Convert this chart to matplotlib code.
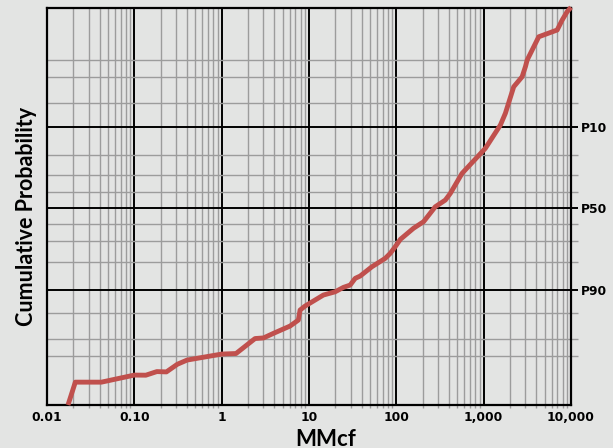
from statistics import NormalDist

import matplotlib

matplotlib.use("Agg")
import matplotlib.pyplot as plt
import numpy as np
from matplotlib.ticker import FixedLocator, FixedFormatter, LogLocator, NullFormatter


# volume (MMcf) vs cumulative probability
VOLUME = [0.0174, 0.0211, 0.042, 0.10, 0.1355, 0.181, 0.233, 0.311, 0.402,
          1.0, 1.46, 2.41, 3.02, 3.91, 6.07, 7.55, 7.9, 9.02, 14.6, 19.9,
          24.8, 29.6, 33.8, 38.5, 52.5, 74.6, 85.1, 97.1, 111, 157, 205,
          279, 364, 415, 565, 1045, 1554, 1774, 2208, 2756, 3008, 3147,
          4275, 6950, 7925, 9036, 10000]
CUM_PROB = [0.00098, 0.0031, 0.0031, 0.00432, 0.0043, 0.00507, 0.0050,
            0.00703, 0.00843, 0.01085, 0.0111, 0.0201, 0.0206, 0.0244,
            0.0318, 0.0391, 0.0544, 0.0617, 0.0857, 0.094, 0.1062, 0.113,
            0.1345, 0.1425, 0.178, 0.2145, 0.238, 0.2715, 0.311, 0.375,
            0.415, 0.508, 0.550, 0.591, 0.707, 0.826, 0.904, 0.932, 0.9717,
            0.9805, 0.9869, 0.990, 0.99646, 0.99744, 0.99844, 0.99899, 0.9992]

X_TICKS = [0.01, 0.1, 1, 10, 100, 1000, 10000]
X_TICK_LABELS = ["0.01", "0.10", "1", "10", "100", "1,000", "10,000"]
P_TICKS = [0.1, 0.5, 0.9]
P_TICK_LABELS = ["P90", "P50", "P10"]
P_MINOR = [0.01, 0.02, 0.05, 0.2, 0.3, 0.4, 0.6, 0.7, 0.8, 0.95, 0.98, 0.99]

BG = "#e3e4e3"
RED = "#c0504d"
GRID_GRAY = "#9c9c9c"

_nd = NormalDist()
_ppf = np.vectorize(_nd.inv_cdf, otypes=[float])
_cdf = np.vectorize(_nd.cdf, otypes=[float])


def prob_forward(p):
    p = np.clip(np.asarray(p, dtype=float), 1e-9, 1 - 1e-9)
    return _ppf(p)


def prob_inverse(z):
    return _cdf(np.asarray(z, dtype=float))


def main():
    fig = plt.figure(figsize=(6.13, 4.48), dpi=100, facecolor=BG)
    ax = fig.add_axes([47 / 613, 1 - 405 / 448, 524 / 613, 397 / 448])
    ax.set_facecolor(BG)

    ax.set_xscale("log")
    ax.set_yscale("function", functions=(prob_forward, prob_inverse))
    ax.set_xlim(0.01, 10000)
    ax.set_ylim(0.00098, 0.99917)

    ax.plot(VOLUME, CUM_PROB, color=RED, lw=3.5, solid_joinstyle="round",
            solid_capstyle="butt", zorder=5, clip_on=False)

    # x axis
    ax.xaxis.set_major_locator(FixedLocator(X_TICKS))
    ax.xaxis.set_major_formatter(FixedFormatter(X_TICK_LABELS))
    ax.xaxis.set_minor_locator(LogLocator(base=10, subs=np.arange(2, 10), numticks=20))
    ax.xaxis.set_minor_formatter(NullFormatter())
    ax.tick_params(axis="x", which="major", length=0, pad=4)
    ax.tick_params(axis="x", which="minor", length=2, color=GRID_GRAY, width=1)

    # probability axis, labels on the right
    ax.yaxis.set_major_locator(FixedLocator(P_TICKS))
    ax.yaxis.set_major_formatter(FixedFormatter(P_TICK_LABELS))
    ax.yaxis.set_minor_locator(FixedLocator(P_MINOR))
    ax.yaxis.set_minor_formatter(NullFormatter())
    ax.yaxis.tick_right()
    ax.tick_params(axis="y", which="major", length=5, width=1.4, color="black", pad=2)
    ax.tick_params(axis="y", which="minor", length=5, width=1, color=GRID_GRAY)

    for lbl in ax.get_xticklabels() + ax.get_yticklabels():
        lbl.set_fontfamily("DejaVu Sans")
        lbl.set_fontweight("bold")
        lbl.set_fontsize(8.8)

    ax.grid(which="major", color="black", lw=1.4)
    ax.grid(which="minor", color=GRID_GRAY, lw=1)
    ax.set_axisbelow(True)
    for spine in ax.spines.values():
        spine.set_linewidth(1.6)
        spine.set_color("black")

    fig.text(27 / 613, 1 - 216 / 448, "Cumulative Probability", rotation=90,
             ha="center", va="center", fontsize=15.5, fontweight="bold",
             family="Lato")
    fig.text(326 / 613, 1 - 439 / 448, "MMcf", ha="center", va="center",
             fontsize=16, fontweight="bold", family="Lato")

    fig.savefig("out.png", dpi=100, facecolor=BG)
    plt.close(fig)


if __name__ == "__main__":
    main()
